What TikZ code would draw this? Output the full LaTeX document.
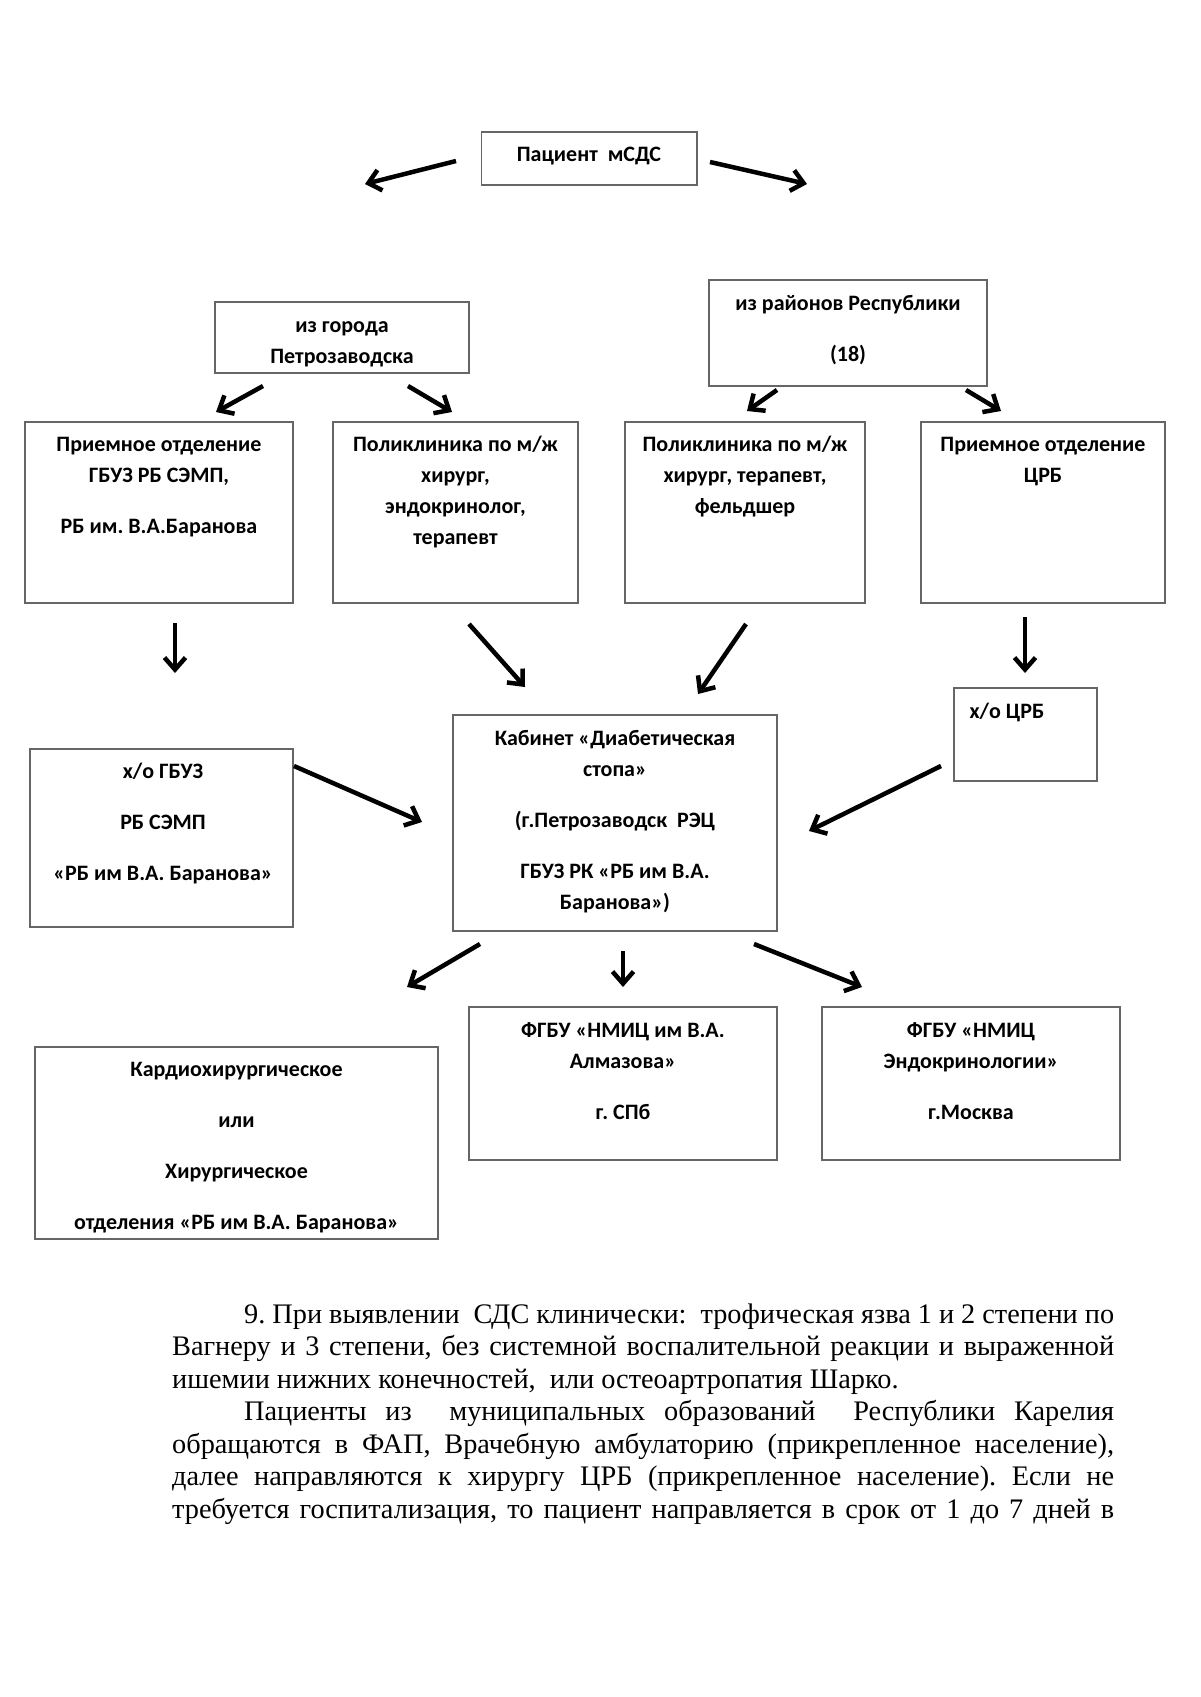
\documentclass[tikz,border=0pt]{standalone}
\usepackage{fontspec}
\setmainfont{Liberation Serif}
\newfontfamily\boxfnt{Carlito}
\usetikzlibrary{arrows.meta}
\newcommand\firstln{\rule{0pt}{17pt}}
\begin{document}
\frenchspacing
\begin{tikzpicture}[x=1pt,y=-1pt,
  box/.style={draw=black!60, line width=1.3pt, inner sep=0pt},
  lbl/.style={font=\boxfnt\bfseries\fontsize{22}{31}\selectfont, align=center, inner sep=0pt, anchor=north},
  arr/.style={line width=4.5pt, -{Straight Barb[length=12pt,width=21pt,line width=4.5pt]}}]
\fill[white] (0,0) rectangle (1200,1697);
\useasboundingbox (0,0) rectangle (1200,1697);
% boxes
\node[box, minimum width=215.5pt, minimum height=53pt] (pac) at (589.25,158.5) {};
\node[box, minimum width=254pt, minimum height=71pt] (gor) at (342,337.5) {};
\node[box, minimum width=278pt, minimum height=106pt] (ray) at (848,333) {};
\node[box, minimum width=268pt, minimum height=181pt] (pr1) at (159,512.5) {};
\node[box, minimum width=245pt, minimum height=181pt] (pol1) at (455.5,512.5) {};
\node[box, minimum width=240pt, minimum height=181pt] (pol2) at (745,512.5) {};
\node[box, minimum width=244pt, minimum height=181pt] (pr2) at (1043,512.5) {};
\node[box, minimum width=143pt, minimum height=93pt] (xocrb) at (1025.5,734.5) {};
\node[box, minimum width=324pt, minimum height=216pt] (kab) at (615,823) {};
\node[box, minimum width=263pt, minimum height=178pt] (xogb) at (161.5,838) {};
\node[box, minimum width=403pt, minimum height=192pt] (kard) at (236.5,1143) {};
\node[box, minimum width=308pt, minimum height=153pt] (alm) at (623,1083.5) {};
\node[box, minimum width=298pt, minimum height=153pt] (endo) at (971,1083.5) {};
% texts
\node[lbl] (pac-t) at (589,144) {\firstln Пациент\ \ мСДС};
\node[lbl] (gor-t) at (342,315) {\firstln из города\\Петрозаводска};
\node[lbl] (ray-t) at (848,293) {\firstln из районов Республики\\[20pt](18)};
\node[lbl] (pr1-t) at (159,434) {\firstln Приемное отделение\\ГБУЗ РБ СЭМП,\\[20pt]РБ им. В.А.Баранова};
\node[lbl] (pol1-t) at (455.5,434) {\firstln Поликлиника по м/ж\\хирург,\\эндокринолог,\\терапевт};
\node[lbl] (pol2-t) at (745,434) {\firstln Поликлиника по м/ж\\хирург, терапевт,\\фельдшер};
\node[lbl] (pr2-t) at (1043,434) {\firstln Приемное отделение\\ЦРБ};
\node[lbl] (xocrb-t) at (1007,701) {\firstln х/о ЦРБ};
\node[lbl] (kab-t) at (615,728) {\firstln Кабинет «Диабетическая\\стопа»\\[20pt](г.Петрозаводск\ \ РЭЦ\\[20pt]ГБУЗ РК «РБ им В.А.\\Баранова»)};
\node[lbl] (xogb-t) at (163,761.5) {\firstln х/о ГБУЗ\\[20pt]РБ СЭМП\\[20pt]«РБ им В.А. Баранова»};
\node[lbl] (kard-t) at (236.5,1059) {\firstln Кардиохирургическое\\[20pt]или\\[20pt]Хирургическое\\[20pt]отделения «РБ им В.А. Баранова»};
\node[lbl] (alm-t) at (623,1020) {\firstln ФГБУ «НМИЦ им В.А.\\Алмазова»\\[20pt]г. СПб};
\node[lbl] (endo-t) at (971,1020) {\firstln ФГБУ «НМИЦ\\Эндокринологии»\\[20pt]г.Москва};
% arrow end points
\coordinate (a1s) at (456,161); \coordinate (a1e) at (365,184);
\coordinate (a2s) at (710,162); \coordinate (a2e) at (807,184);
\coordinate (a3s) at (263,386); \coordinate (a3e) at (216,412);
\coordinate (a4s) at (408,386); \coordinate (a4e) at (452,412);
\coordinate (a5s) at (777,390); \coordinate (a5e) at (747,411);
\coordinate (a6s) at (966,390); \coordinate (a6e) at (1001,411);
\coordinate (a7s) at (175,623); \coordinate (a7e) at (175,673);
\coordinate (a8s) at (469,624); \coordinate (a8e) at (525,687);
\coordinate (a9s) at (746,624); \coordinate (a9e) at (698,694);
\coordinate (a10s) at (1025,617); \coordinate (a10e) at (1025,673);
\coordinate (a11s) at (294,766); \coordinate (a11e) at (422,822);
\coordinate (a12s) at (941,766); \coordinate (a12e) at (809,831);
\coordinate (a13s) at (480,944); \coordinate (a13e) at (407,987);
\coordinate (a14s) at (623,951); \coordinate (a14e) at (623,987);
\coordinate (a15s) at (754,944); \coordinate (a15e) at (862,987);
\foreach \i in {1,...,15} {\draw[arr] (a\i s) -- (a\i e);}
% body text
\node[anchor=north west, inner sep=0pt, text width=942pt, align=justify, font=\fontsize{28.3}{32.5}\selectfont] (body) at (172,1303) {\frenchspacing
\hspace*{72pt}\rule{0pt}{20pt}9. При выявлении\ \ СДС клинически:\ \ трофическая язва 1 и 2 степени по\linebreak
Вагнеру и 3 степени, без системной воспалительной реакции и выраженной\linebreak
ишемии нижних конечностей,\ \ или остеоартропатия Шарко.\par
\hspace*{72pt}Пациенты из\ \ муниципальных образований\ \ Республики Карелия\linebreak
обращаются в ФАП, Врачебную амбулаторию (прикрепленное население),\linebreak
далее направляются к хирургу ЦРБ (прикрепленное население). Если не\linebreak
требуется госпитализация, то пациент направляется в срок от 1 до 7 дней в{\parfillskip=0pt\par}};
\end{tikzpicture}
\end{document}
